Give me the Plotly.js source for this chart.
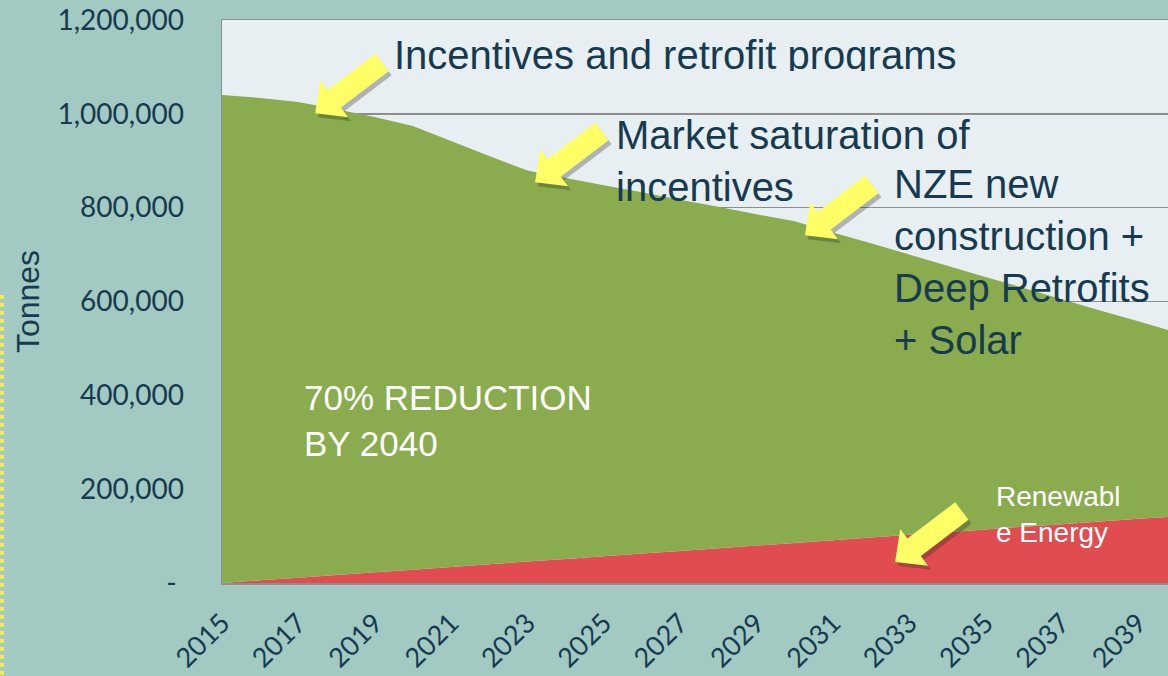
<!DOCTYPE html>
<html>
<head>
<meta charset="utf-8">
<script src="https://cdn.plot.ly/plotly-3.0.1.min.js"></script>
<style>
  body { margin: 0; background: #a2c9c2; }
  #chart { width: 1168px; height: 676px; }
</style>
</head>
<body>
<div id="chart"></div>
<script>
// years along the x axis
const years = [2015, 2016, 2017, 2018, 2019, 2020, 2021, 2022, 2023, 2024, 2025, 2026, 2027,
               2028, 2029, 2030, 2031, 2032, 2033, 2034, 2035, 2036, 2037, 2038, 2039, 2040];

// renewable energy (red, bottom layer), tonnes
const renewable = [0, 6000, 11000, 17000, 23000, 28000, 34000, 40000, 46000, 51000, 57000, 63000, 68000,
                   74000, 80000, 85000, 91000, 97000, 103000, 108000, 114000, 120000, 125000, 131000, 137000, 142000];

// remaining emissions (green, stacked on top), tonnes
const remaining = [1040000, 1028000, 1014000, 993000, 970000, 946000, 908000, 870000, 833000, 812000, 791000, 770000, 749000,
                   728000, 706000, 686000, 656000, 627000, 597000, 568000, 538000, 509000, 480000, 450000, 421000, 392000];

const xTickYears = [2015, 2017, 2019, 2021, 2023, 2025, 2027, 2029, 2031, 2033, 2035, 2037, 2039];
const yTickVals = [0, 200000, 400000, 600000, 800000, 1000000, 1200000];
const yTickText = ['-\u00a0', '200,000', '400,000', '600,000', '800,000', '1,000,000', '1,200,000'];

const NAVY = '#163a50';
const BG = '#a2c9c2';
const PLOT_BG = '#e8eff3';
const GRID = '#8e8e8e';
const ARROW = '#ffff66';

const redTrace = {
  x: years,
  y: renewable,
  type: 'scatter',
  mode: 'none',
  stackgroup: 'one',
  fillcolor: '#e04c4f',
  name: 'Renewable Energy',
};

const greenTrace = {
  x: years,
  y: remaining,
  type: 'scatter',
  mode: 'none',
  stackgroup: 'one',
  fillcolor: '#8aab4e',
  name: 'Emissions',
};

// block arrow outline in px, tip at the anchor, pointing down-left
function arrowPath(dx, dy) {
  const len = 84, headLen = 24, headHalf = 23, shaftHalf = 11;
  const u = [0.796, 0.606];   // tip -> tail (y up)
  const n = [-0.606, 0.796];
  const pt = (a, b) => [dx + a * u[0] + b * n[0], dy + a * u[1] + b * n[1]];
  const pts = [pt(0, 0), pt(headLen, headHalf), pt(headLen, shaftHalf), pt(len, shaftHalf),
               pt(len, -shaftHalf), pt(headLen, -shaftHalf), pt(headLen, -headHalf)];
  return 'M' + pts.map(p => p[0].toFixed(1) + ',' + p[1].toFixed(1)).join('L') + 'Z';
}

function arrow(x, y) {
  const base = {
    type: 'path', layer: 'above', xref: 'x', yref: 'y',
    xsizemode: 'pixel', ysizemode: 'pixel', xanchor: x, yanchor: y,
    line: { width: 0 },
  };
  return [
    Object.assign({}, base, { path: arrowPath(3, -4), fillcolor: 'rgba(40,40,40,0.3)' }),
    Object.assign({}, base, { path: arrowPath(0, 0), fillcolor: ARROW }),
  ];
}

function label(text, x, y, size, color, extra) {
  return Object.assign({
    text: text, x: x, y: y, xref: 'paper', yref: 'paper',
    xanchor: 'left', yanchor: 'top', align: 'left', showarrow: false,
    font: { family: 'Liberation Sans, Arial, sans-serif', size: size, color: color },
  }, extra || {});
}

const annotations = [
  label('Incentives and retrofit programs', 0.1799, 0.9813, 40, NAVY, { height: 38, valign: 'top' }),
  label('Market saturation of<br>incentives', 0.4145, 0.8375, 40, NAVY),
  label('NZE new<br>construction +<br>Deep Retrofits<br>+ Solar', 0.7084, 0.7513, 40, NAVY),
  label('70% REDUCTION<br>BY 2040', 0.0845, 0.3677, 35, 'white'),
  label('Renewabl<br>e Energy', 0.8162, 0.1853, 28, 'white'),
];

const layout = {
  width: 1168,
  height: 676,
  margin: { l: 222, r: 0, t: 20, b: 93 },
  paper_bgcolor: BG,
  plot_bgcolor: PLOT_BG,
  showlegend: false,
  hovermode: false,
  xaxis: {
    range: [2015, 2039.78],
    tickvals: xTickYears,
    ticktext: xTickYears.map(String),
    tickangle: -45,
    ticks: '',
    ticklabelstandoff: 12,
    tickfont: { family: 'Lato, sans-serif', size: 27, color: NAVY },
    showgrid: false,
    zeroline: false,
    showline: true,
    mirror: true,
    linecolor: GRID,
    linewidth: 1.5,
  },
  yaxis: {
    range: [0, 1200000],
    tickvals: yTickVals,
    ticktext: yTickText,
    ticks: '',
    ticklabelstandoff: 31,
    tickfont: { family: 'Lato, sans-serif', size: 28, color: NAVY },
    showgrid: true,
    gridcolor: GRID,
    gridwidth: 1.5,
    zeroline: false,
    showline: true,
    mirror: true,
    linecolor: GRID,
    linewidth: 1.5,
    title: {
      text: 'Tonnes',
      standoff: 8,
      font: { family: 'Liberation Sans, Arial, sans-serif', size: 32, color: NAVY },
    },
  },
  shapes: [
    {
      type: 'line', xref: 'paper', yref: 'paper',
      x0: -0.2326, x1: -0.2326, y0: 0.5115, y1: -0.17,
      line: { color: '#f4ec4a', width: 4, dash: 'dot' },
    },
  ].concat(
    arrow(2017.44, 1001000),
    arrow(2023.2, 854000),
    arrow(2030.27, 741000),
    arrow(2032.63, 45000)
  ),
  annotations: annotations,
};

Plotly.newPlot('chart', [redTrace, greenTrace], layout, { displayModeBar: false, staticPlot: true });
</script>
</body>
</html>
